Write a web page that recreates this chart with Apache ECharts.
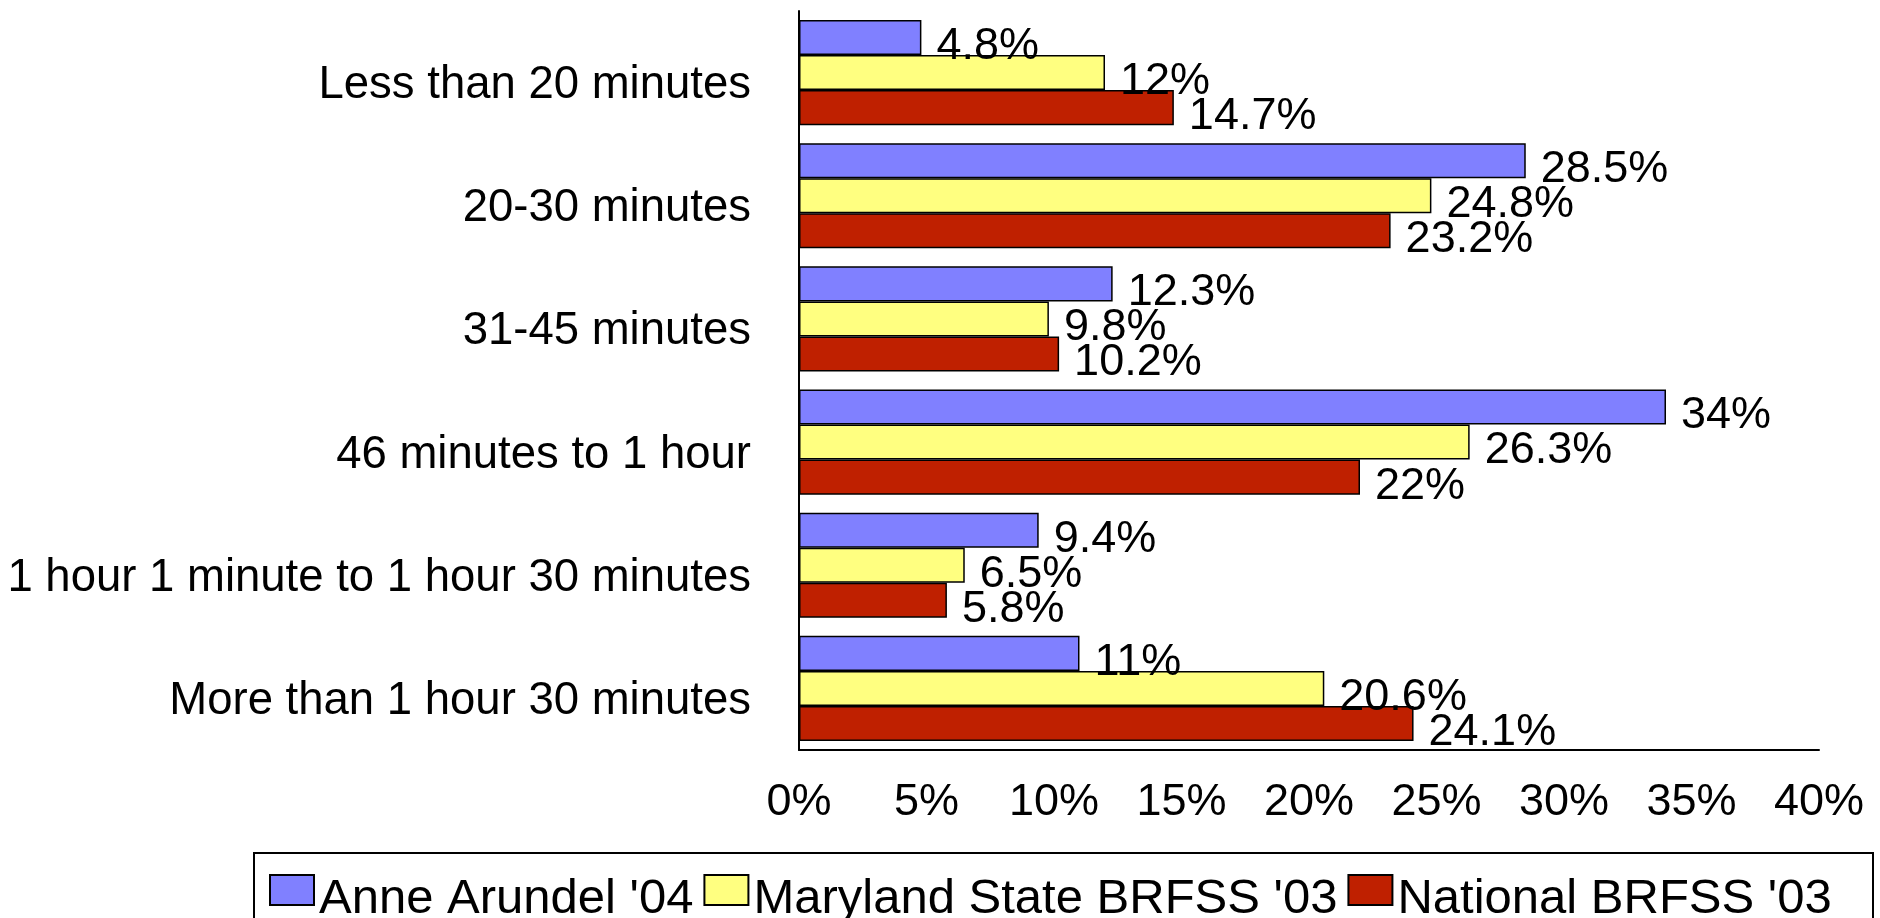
<!DOCTYPE html>
<html>
<head>
<meta charset="utf-8">
<script src="https://cdn.jsdelivr.net/npm/echarts@6/dist/echarts.min.js"></script>
<style>
  html, body { margin: 0; padding: 0; background: #ffffff; }
  #chart { width: 1880px; height: 918px; }
</style>
</head>
<body>
<div id="chart"></div>
<script>
// Commute time categories (top to bottom)
const categories = [
  'Less than 20 minutes',
  '20-30 minutes',
  '31-45 minutes',
  '46 minutes to 1 hour',
  '1 hour 1 minute to 1 hour 30 minutes',
  'More than 1 hour 30 minutes'
];

const seriesNames = ["Anne Arundel '04", "Maryland State BRFSS '03", "National BRFSS '03"];

// Percent of respondents per category
const anneArundel = [4.8, 28.5, 12.3, 34, 9.4, 11];
const marylandState = [12, 24.8, 9.8, 26.3, 6.5, 20.6];
const national = [14.7, 23.2, 10.2, 22, 5.8, 24.1];

const xTicks = [0, 5, 10, 15, 20, 25, 30, 35, 40];

const colors = ['#8080FF', '#FFFF80', '#BF2000'];
const FONT = '"Liberation Sans", Arial, sans-serif';

const chart = echarts.init(document.getElementById('chart'), null, { renderer: 'canvas' });

function barSeries(name, data, color) {
  return {
    name: name,
    type: 'bar',
    data: data,
    barGap: '0%',
    barCategoryGap: '14.6%',
    itemStyle: { color: color, borderColor: '#000000', borderWidth: 1.5 },
    label: {
      show: true,
      position: 'right',
      distance: 15,
      offset: [0, 9],
      formatter: '{c}%',
      color: '#000000',
      fontFamily: FONT,
      fontSize: 45
    },
    emphasis: { disabled: true },
    animation: false
  };
}

chart.setOption({
  animation: false,
  backgroundColor: '#ffffff',
  textStyle: { fontFamily: FONT },
  grid: { left: 799, right: 61, top: 11, bottom: 168, containLabel: false },
  xAxis: {
    type: 'value',
    min: xTicks[0],
    max: xTicks[xTicks.length - 1],
    interval: xTicks[1] - xTicks[0],
    axisLine: { show: true, lineStyle: { color: '#000000', width: 2 } },
    axisTick: { show: false },
    splitLine: { show: false },
    axisLabel: {
      margin: 30,
      color: '#000000',
      fontFamily: FONT,
      fontSize: 45,
      formatter: '{value}%'
    }
  },
  yAxis: {
    type: 'category',
    data: categories,
    inverse: true,
    axisLine: { show: true, lineStyle: { color: '#000000', width: 2 } },
    axisTick: { show: false },
    axisLabel: {
      margin: 48,
      color: '#000000',
      fontFamily: FONT,
      fontSize: 45.5,
      verticalAlign: 'top',
      lineHeight: 26
    }
  },
  legend: {
    data: seriesNames,
    left: 264,
    top: 869,
    orient: 'horizontal',
    itemWidth: 44,
    itemHeight: 30,
    itemGap: 10,
    icon: 'rect',
    selectedMode: false,
    formatter: function (name) { return '{t|' + name + '}'; },
    textStyle: {
      color: '#000000',
      fontFamily: FONT,
      fontSize: 49,
      rich: {
        t: {
          color: '#000000',
          fontFamily: FONT,
          fontSize: 49,
          padding: [18, 0, 0, 0]
        }
      }
    }
  },
  graphic: [{
    type: 'rect',
    shape: { x: 254, y: 853, width: 1619, height: 100 },
    style: { fill: 'none', stroke: '#000000', lineWidth: 2 },
    silent: true,
    z: -1
  }],
  series: [
    barSeries(seriesNames[0], anneArundel, colors[0]),
    barSeries(seriesNames[1], marylandState, colors[1]),
    barSeries(seriesNames[2], national, colors[2])
  ]
});
</script>
</body>
</html>
